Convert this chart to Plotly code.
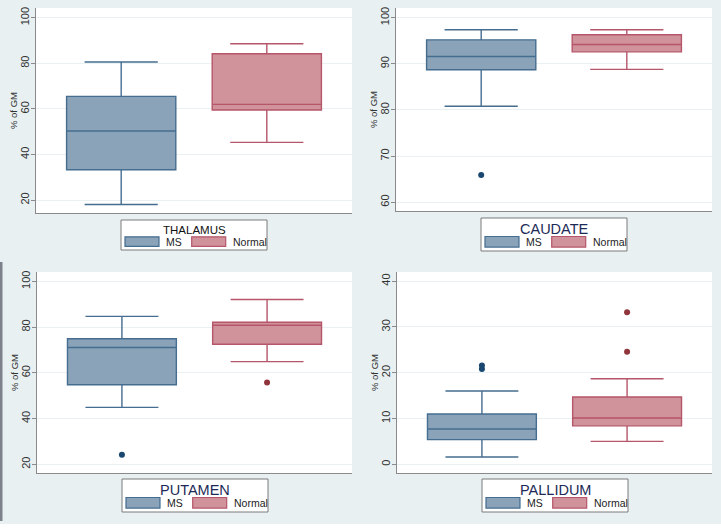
import plotly.graph_objects as go

# ---------------- data ----------------
regions = ["THALAMUS", "CAUDATE", "PUTAMEN", "PALLIDUM"]
groups = ["MS", "Normal"]

ms_lower = [18.0, 80.8, 44.9, 1.6]
ms_q1 = [33.3, 88.7, 54.8, 5.4]
ms_median = [50.3, 91.6, 71.1, 7.7]
ms_q3 = [65.5, 95.2, 74.9, 11.0]
ms_upper = [80.6, 97.4, 84.7, 16.0]
ms_outliers = [[], [65.9], [24.2], [21.6, 20.8]]

normal_lower = [45.3, 88.8, 64.9, 5.0]
normal_q1 = [59.5, 92.6, 72.5, 8.4]
normal_median = [62.0, 94.2, 80.8, 10.1]
normal_q3 = [84.2, 96.3, 82.1, 14.7]
normal_upper = [88.6, 97.4, 92.1, 18.7]
normal_outliers = [[], [], [55.8], [33.2, 24.6]]

y_ticks = [[20, 40, 60, 80, 100], [60, 70, 80, 90, 100],
           [20, 40, 60, 80, 100], [0, 10, 20, 30, 40]]
y_ranges = [[14.3, 104.3], [58.1, 102.1], [16.2, 104.1], [-1.9, 42.0]]
y_title = "% of GM"

# ---------------- layout / style ----------------
W, H = 721, 529
BG = "#e8f0f2"
MS_FILL, MS_LINE, MS_DOT = "#8aa3b9", "#456d90", "#1a476f"
NO_FILL, NO_LINE, NO_DOT = "#d0929b", "#b5566a", "#90353b"
FONT = "Liberation Sans, Arial, sans-serif"

# plot areas in pixels: (x0, x1, ytop, ybottom)
plot_px = [(36, 352, 8, 213), (396, 712, 8, 211),
           (37, 352, 272, 473), (397, 712, 272, 473)]
# legend boxes in pixels: (x0, x1, ytop, ybottom)
leg_px = [(121, 267, 220, 250), (481, 627, 218, 251),
          (122, 268, 479, 512), (482, 628, 479, 512)]
title_sizes = [11.5, 14.5, 14.5, 14.5]
title_colors = ["#111111", "#1c2b55", "#1c2b55", "#1c2b55"]


def px(x):
    return x / W


def py(y):
    return 1 - y / H


fig = go.Figure()
layout = dict(
    width=W, height=H,
    margin=dict(l=0, r=0, t=0, b=0),
    paper_bgcolor=BG, plot_bgcolor="white",
    showlegend=False,
    boxmode="overlay",
    font=dict(family=FONT, color="#222222"),
)
shapes = []
annotations = []

for i, reg in enumerate(regions):
    n = "" if i == 0 else str(i + 1)
    xa, ya = "x" + n, "y" + n
    x0, x1, yt, yb = plot_px[i]
    layout["xaxis" + n] = dict(
        domain=[px(x0), px(x1)], anchor=ya, range=[-0.585, 1.585],
        showticklabels=False, ticks="", showgrid=False, zeroline=False,
        showline=True, linecolor="#8a8a8a", linewidth=1,
    )
    layout["yaxis" + n] = dict(
        domain=[py(yb), py(yt)], anchor=xa, range=y_ranges[i],
        tickvals=y_ticks[i], ticktext=[str(t) for t in y_ticks[i]],
        tickangle=-90, ticks="outside", ticklen=4, tickcolor="#8a8a8a",
        ticklabelstandoff=-2,
        tickfont=dict(size=11, color="#333333"),
        showgrid=True, gridcolor="#e9f1f2", gridwidth=1, zeroline=False,
        showline=True, linecolor="#8a8a8a", linewidth=1,
    )
    # y-axis title
    annotations.append(dict(xref="paper", yref="paper", x=px(x0 - 22.5),
                            y=py((yt + yb) / 2), text=y_title, showarrow=False,
                            textangle=-90, font=dict(size=9.5, color="#333333"),
                            xanchor="center", yanchor="middle"))

    # boxes
    fig.add_trace(go.Box(
        x=[0], q1=[ms_q1[i]], median=[ms_median[i]], q3=[ms_q3[i]],
        lowerfence=[ms_lower[i]], upperfence=[ms_upper[i]],
        width=0.75, whiskerwidth=0.67, fillcolor=MS_FILL,
        line=dict(color=MS_LINE, width=1.4), name=groups[0],
        xaxis=xa, yaxis=ya, boxpoints=False,
    ))
    fig.add_trace(go.Box(
        x=[1], q1=[normal_q1[i]], median=[normal_median[i]], q3=[normal_q3[i]],
        lowerfence=[normal_lower[i]], upperfence=[normal_upper[i]],
        width=0.75, whiskerwidth=0.67, fillcolor=NO_FILL,
        line=dict(color=NO_LINE, width=1.4), name=groups[1],
        xaxis=xa, yaxis=ya, boxpoints=False,
    ))
    if ms_outliers[i]:
        fig.add_trace(go.Scatter(
            x=[0] * len(ms_outliers[i]), y=ms_outliers[i], mode="markers",
            marker=dict(color=MS_DOT, size=6), xaxis=xa, yaxis=ya,
        ))
    if normal_outliers[i]:
        fig.add_trace(go.Scatter(
            x=[1] * len(normal_outliers[i]), y=normal_outliers[i], mode="markers",
            marker=dict(color=NO_DOT, size=6), xaxis=xa, yaxis=ya,
        ))

    # legend box (drawn)
    lx0, lx1, lt, lb = leg_px[i]
    shapes.append(dict(type="rect", xref="paper", yref="paper",
                       x0=px(lx0), x1=px(lx1), y0=py(lb), y1=py(lt),
                       line=dict(color="#7a7a7a", width=1), fillcolor="white"))
    annotations.append(dict(xref="paper", yref="paper", x=px((lx0 + lx1) / 2),
                            y=py(lt + (lb - lt) * 0.33), text=reg, showarrow=False,
                            font=dict(size=title_sizes[i], color=title_colors[i]),
                            xanchor="center", yanchor="middle"))
    sw_top = lt + (lb - lt) * 0.56
    sw_bot = lt + (lb - lt) * 0.88
    sw_mid = (sw_top + sw_bot) / 2
    for k, (fc, lc, lab) in enumerate([(MS_FILL, MS_LINE, groups[0]),
                                        (NO_FILL, NO_LINE, groups[1])]):
        sx0 = lx0 + 4 + k * 66.7
        sx1 = sx0 + 34
        shapes.append(dict(type="rect", xref="paper", yref="paper",
                           x0=px(sx0), x1=px(sx1), y0=py(sw_bot), y1=py(sw_top),
                           line=dict(color=lc, width=1.2), fillcolor=fc))
        annotations.append(dict(xref="paper", yref="paper", x=px(sx1 + 5),
                                y=py(sw_mid), text=lab, showarrow=False,
                                font=dict(size=10.5, color="#222222"),
                                xanchor="left", yanchor="middle"))

# decorative edges of the screenshot
shapes.append(dict(type="rect", xref="paper", yref="paper", x0=0, x1=px(2.5),
                   y0=py(521), y1=py(262), line=dict(width=0), fillcolor="#7c818c",
                   layer="below"))
shapes.append(dict(type="rect", xref="paper", yref="paper", x0=0, x1=1,
                   y0=0, y1=py(524), line=dict(width=0), fillcolor="white",
                   layer="below"))

layout["shapes"] = shapes
layout["annotations"] = annotations
fig.update_layout(**layout)
fig.write_html(
    "out.html",
    config={"displayModeBar": False},
    post_script="document.body.style.margin='0';document.body.style.overflow='hidden';",
)
